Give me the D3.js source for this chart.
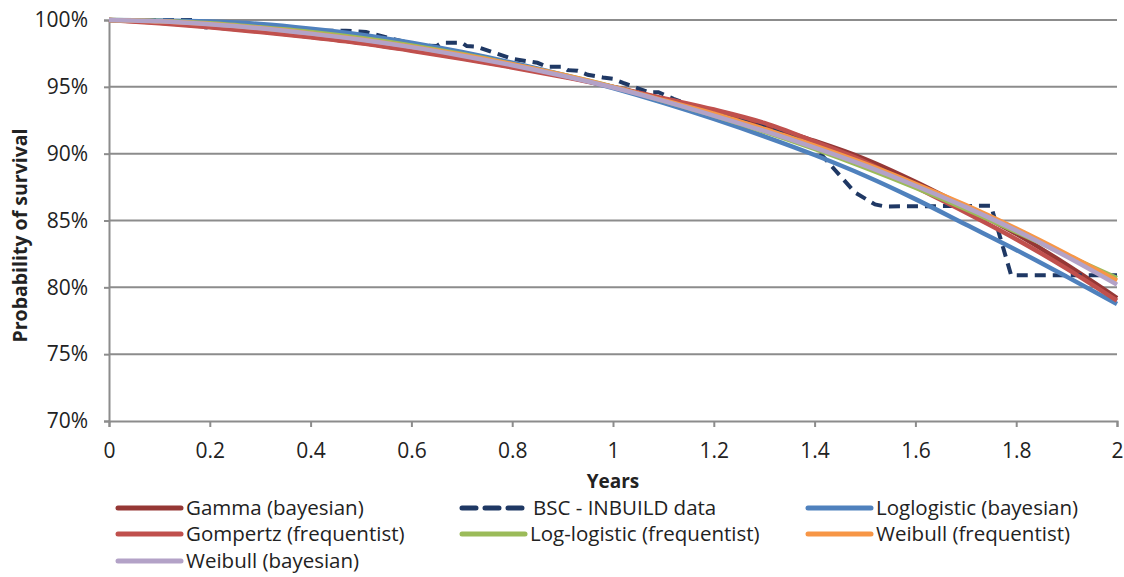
<!DOCTYPE html>
<html>
<head>
<meta charset="utf-8">
<style>
  body { margin: 0; background: #fff; }
  text { font-family: "Open Sans", "Liberation Sans", sans-serif; fill: #222; }
</style>
</head>
<body>
<div id="chart"></div>
<script src="https://cdnjs.cloudflare.com/ajax/libs/d3/7.8.5/d3.min.js"></script>
<script>

// time grid for the fitted curves (years)
var years = [0, 0.1, 0.2, 0.3, 0.4, 0.5, 0.6, 0.7, 0.8, 0.9, 1.0,
             1.1, 1.2, 1.3, 1.4, 1.5, 1.6, 1.7, 1.8, 1.9, 2.0];

// survival (%)
var gammaBayes   = [100, 99.8, 99.5, 99.15, 98.75, 98.3, 97.75, 97.15, 96.5, 95.8, 95.0,
                    94.1, 93.15, 92.1, 90.95, 89.6, 87.9, 86.0, 84.0, 81.7, 79.2];
var gompertzFreq = [100, 99.75, 99.45, 99.1, 98.7, 98.25, 97.7, 97.1, 96.45, 95.75, 95.0,
                    94.15, 93.3, 92.3, 90.9, 89.4, 87.5, 85.6, 83.6, 81.4, 79.0];
var loglogBayes  = [100, 99.97, 99.88, 99.7, 99.35, 98.9, 98.3, 97.6, 96.8, 95.9, 94.9,
                    93.8, 92.6, 91.3, 89.9, 88.35, 86.6, 84.7, 82.8, 80.8, 78.75];
var loglogFreq   = [100, 99.93, 99.75, 99.45, 99.1, 98.65, 98.1, 97.45, 96.7, 95.9, 95.0,
                    93.95, 92.85, 91.65, 90.35, 88.95, 87.45, 85.85, 84.15, 82.4, 80.7];
var weibullFreq  = [100, 99.9, 99.7, 99.4, 99.0, 98.55, 98.0, 97.4, 96.7, 95.9, 95.0,
                    94.0, 93.0, 91.85, 90.6, 89.25, 87.75, 86.15, 84.4, 82.5, 80.5];
var weibullBayes = [100, 99.9, 99.68, 99.38, 98.98, 98.52, 97.97, 97.33, 96.62, 95.83, 94.95,
                    93.95, 92.85, 91.7, 90.45, 89.1, 87.6, 86.0, 84.25, 82.3, 80.2];

// observed Kaplan-Meier data (BSC - INBUILD)
var bscTime = [0, 0.17, 0.19, 0.22, 0.30, 0.40, 0.47, 0.49, 0.51, 0.56, 0.62, 0.65, 0.66,
               0.70, 0.71, 0.73, 0.76, 0.80, 0.85, 0.87, 0.90, 0.91, 0.93, 0.95, 0.98,
               1.00, 1.02, 1.07, 1.09, 1.12, 1.18, 1.24, 1.26, 1.28, 1.31, 1.35, 1.38,
               1.40, 1.44, 1.48, 1.52, 1.54, 1.75, 1.79, 2.0];
var bscSurv = [100, 100, 99.45, 99.4, 99.3, 99.2, 99.2, 99.15, 99.1, 98.6, 98.1, 98.05, 98.3,
               98.3, 98.05, 98.0, 97.6, 97.1, 96.8, 96.5, 96.5, 96.25, 96.2, 95.9, 95.7,
               95.6, 95.3, 94.6, 94.6, 94.1, 93.3, 92.7, 92.6, 92.5, 92.0, 91.5, 90.9,
               90.5, 88.8, 87.1, 86.2, 86.05, 86.1, 80.9, 80.9];

var xTicks = [0, 0.2, 0.4, 0.6, 0.8, 1, 1.2, 1.4, 1.6, 1.8, 2];
var yTicks = [70, 75, 80, 85, 90, 95, 100];

var seriesNames = ["Gamma (bayesian)", "BSC - INBUILD data", "Loglogistic (bayesian)",
                   "Gompertz (frequentist)", "Log-logistic (frequentist)", "Weibull (frequentist)",
                   "Weibull (bayesian)"];
var seriesColors = ["#953735", "#1f3864", "#4f81bd", "#c0504d", "#9bbb59", "#f79646", "#b3a2c7"];

var width = 1124, height = 577;
var margin = {top: 20, right: 7, bottom: 156, left: 109};
var innerW = width - margin.left - margin.right;
var innerH = height - margin.top - margin.bottom;

var svg = d3.select("#chart").append("svg")
    .attr("width", width)
    .attr("height", height);

var g = svg.append("g")
    .attr("transform", "translate(" + margin.left + "," + margin.top + ")");

var x = d3.scaleLinear().domain([0, 2]).range([0, innerW]);
var y = d3.scaleLinear().domain([70, 100]).range([innerH, 0]);

// gridlines
g.append("g")
    .selectAll("line")
    .data(yTicks.filter(d => d > 70))
    .enter().append("line")
    .attr("x1", 0).attr("x2", innerW)
    .attr("y1", d => y(d)).attr("y2", d => y(d))
    .attr("stroke", "#8c8c8c")
    .attr("stroke-width", 2);

// axes
var yAxis = g.append("g")
    .call(d3.axisLeft(y).tickValues(yTicks).tickFormat(d => d + "%").tickSize(5).tickPadding(16));
var xAxis = g.append("g")
    .attr("transform", "translate(0," + innerH + ")")
    .call(d3.axisBottom(x).tickValues(xTicks).tickFormat(d3.format("")).tickSize(6).tickPadding(16));

[yAxis, xAxis].forEach(function(a) {
    a.select(".domain").attr("stroke", "#8c8c8c").attr("stroke-width", 2);
    a.selectAll(".tick line").attr("stroke", "#8c8c8c").attr("stroke-width", 2);
    a.selectAll("text").attr("font-size", 21).attr("fill", "#222")
        .style("font-family", '"Open Sans", sans-serif');
});

// axis titles
svg.append("text")
    .attr("x", margin.left + innerW / 2)
    .attr("y", 488)
    .attr("text-anchor", "middle")
    .attr("font-size", 19)
    .attr("font-weight", "bold")
    .text("Years");

svg.append("text")
    .attr("transform", "translate(27," + (margin.top + innerH / 2 + 15) + ") rotate(-90)")
    .attr("text-anchor", "middle")
    .attr("font-size", 19.5)
    .attr("font-weight", "bold")
    .text("Probability of survival");

// curves
var line = d3.line()
    .x(d => x(d[0]))
    .y(d => y(d[1]))
    .curve(d3.curveMonotoneX);

var stepLine = d3.line()
    .x(d => x(d[0]))
    .y(d => y(d[1]));

var curves = [gammaBayes, null, loglogBayes, gompertzFreq, loglogFreq, weibullFreq, weibullBayes];

curves.forEach(function(vals, i) {
    if (vals === null) {
        g.append("path")
            .datum(d3.zip(bscTime, bscSurv))
            .attr("fill", "none")
            .attr("stroke", seriesColors[i])
            .attr("stroke-width", 4)
            .attr("stroke-dasharray", "11,7")
            .attr("d", stepLine);
    } else {
        g.append("path")
            .datum(d3.zip(years, vals))
            .attr("fill", "none")
            .attr("stroke", seriesColors[i])
            .attr("stroke-width", 4.5)
            .attr("stroke-linejoin", "round")
            .attr("d", line);
    }
});

// legend
var legCols = [118, 462, 808];
var legRows = [508, 534, 561];

var leg = svg.append("g")
    .selectAll("g")
    .data(seriesNames)
    .enter().append("g")
    .attr("transform", (d, i) => "translate(" + legCols[i % 3] + "," + legRows[Math.floor(i / 3)] + ")");

leg.append("line")
    .attr("x1", 0).attr("x2", 63)
    .attr("y1", 0).attr("y2", 0)
    .attr("stroke", (d, i) => seriesColors[i])
    .attr("stroke-width", 5)
    .attr("stroke-linecap", "round")
    .attr("stroke-dasharray", (d, i) => i === 1 ? "14,9" : null);

leg.append("text")
    .attr("x", (d, i) => i === 1 ? 71 : 68)
    .attr("y", 0)
    .attr("dy", "0.35em")
    .attr("font-size", 20.5)
    .text(d => d);

</script>
</body>
</html>
